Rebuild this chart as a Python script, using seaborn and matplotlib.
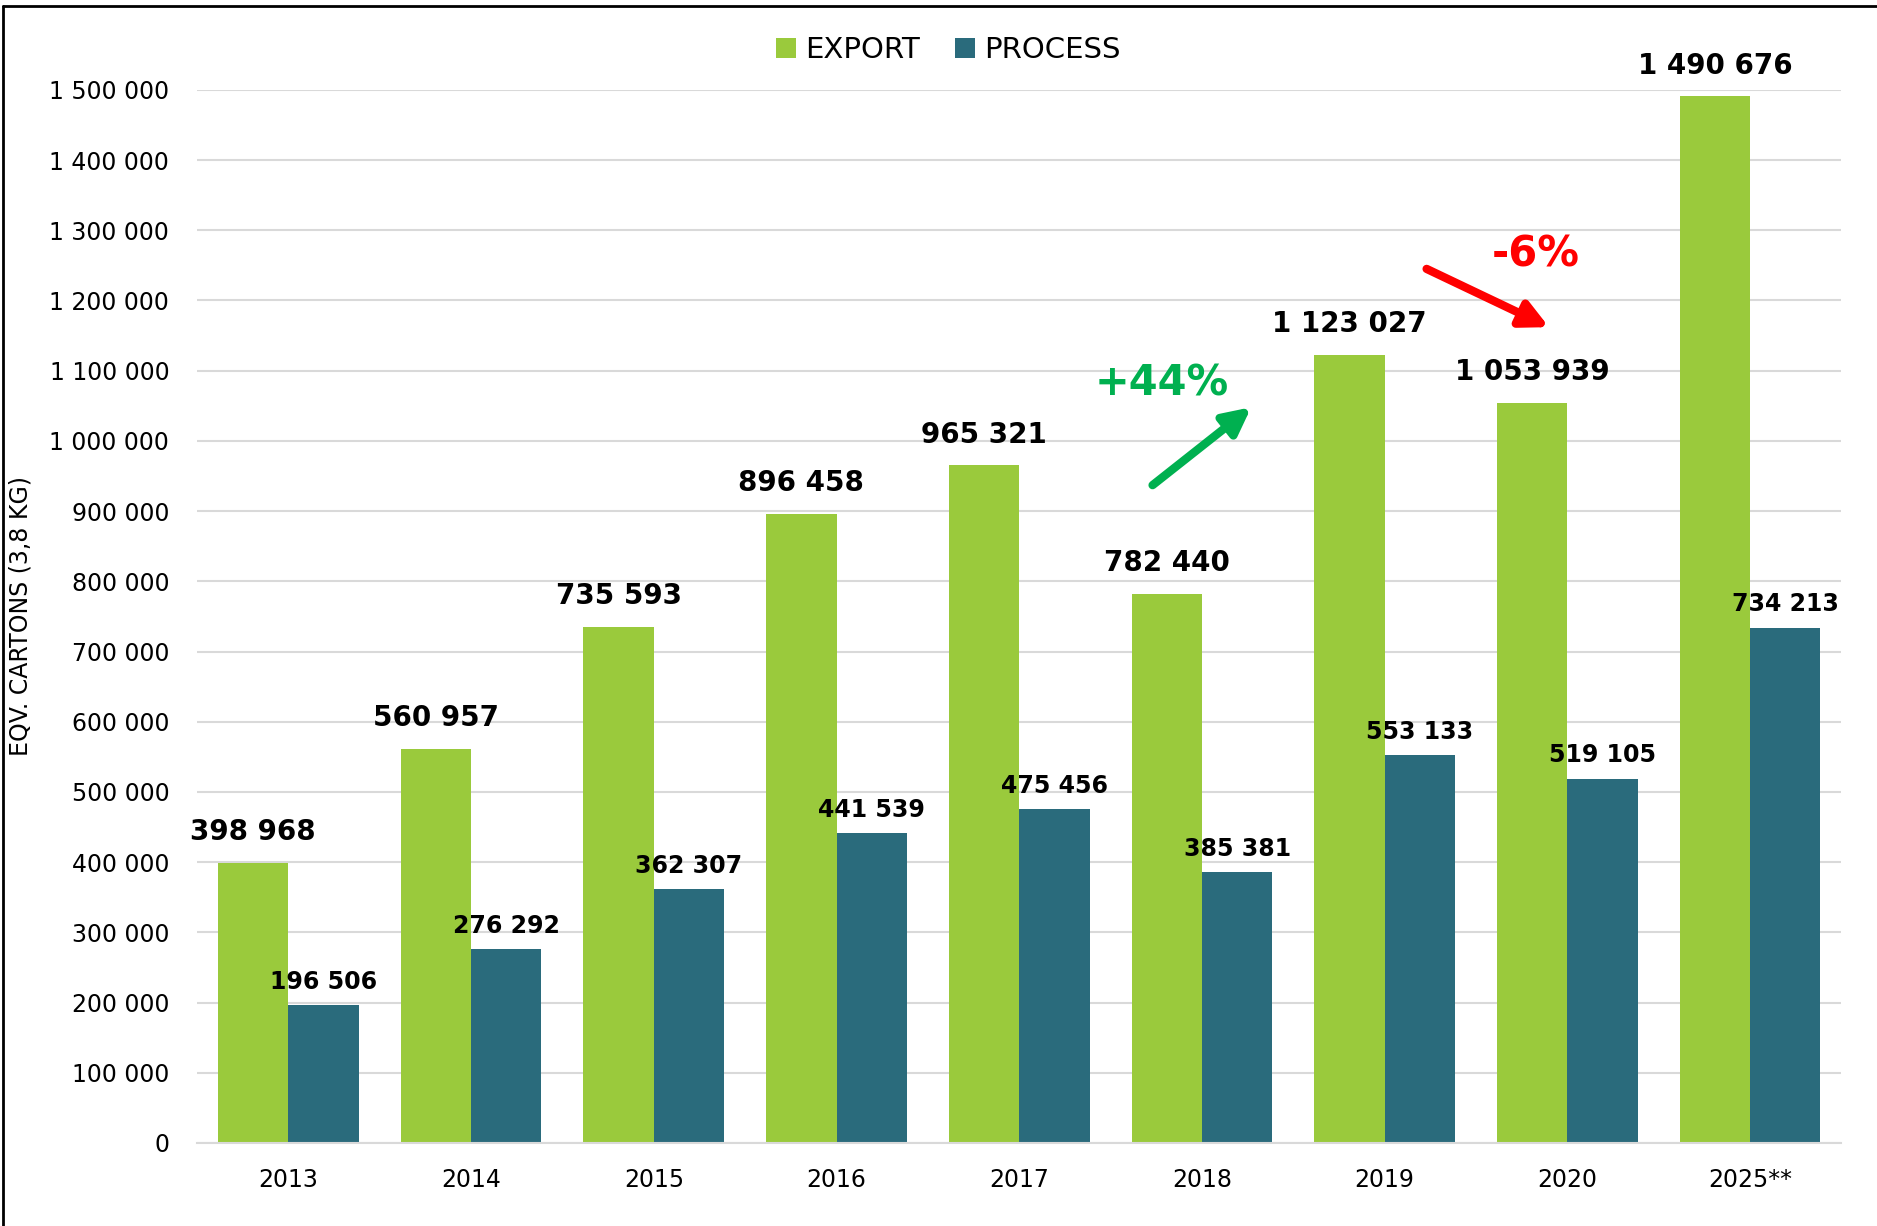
import matplotlib
matplotlib.use("Agg")
import matplotlib.pyplot as plt
import seaborn as sns
import pandas as pd
from matplotlib.lines import Line2D

years = ["2013", "2014", "2015", "2016", "2017", "2018", "2019", "2020", "2025**"]
export = [398968, 560957, 735593, 896458, 965321, 782440, 1123027, 1053939, 1490676]
process = [196506, 276292, 362307, 441539, 475456, 385381, 553133, 519105, 734213]
series_names = ["EXPORT", "PROCESS"]
colors = ["#9ACA3C", "#2A6B7C"]
y_ticks = list(range(0, 1500001, 100000))

sns.set_style("white")
plt.rcParams["font.family"] = ["DejaVu Sans"]
plt.rcParams["text.color"] = "black"
plt.rcParams["xtick.color"] = "black"
plt.rcParams["ytick.color"] = "black"
plt.rcParams["axes.labelcolor"] = "black"

df = pd.DataFrame({
    "year": years * 2,
    "value": export + process,
    "series": [series_names[0]] * len(years) + [series_names[1]] * len(years),
})

fig = plt.figure(figsize=(18.77, 12.26), dpi=100)
ax = fig.add_axes([0.105, 0.0677, 0.876, 0.859])

sns.barplot(data=df, x="year", y="value", hue="series", palette=colors,
            width=0.77, ax=ax, saturation=1, errorbar=None, zorder=2,
            linewidth=0)

def fmt(v):
    return f"{v:,.0f}".replace(",", " ")

ax.set_ylim(0, 1500000)
ax.set_xlim(-0.5, len(years) - 0.5)
ax.set_yticks(y_ticks)
ax.set_yticklabels([fmt(v) for v in y_ticks], fontsize=17, color="black")
ax.tick_params(axis="x", labelsize=17, length=0, pad=18, labelcolor="black")
ax.tick_params(axis="y", length=0, pad=20, labelcolor="black")
ax.yaxis.grid(True, color="#D9D9D9", lw=1.5, zorder=0)
ax.set_axisbelow(True)
for s in ["top", "right", "left"]:
    ax.spines[s].set_visible(False)
ax.spines["bottom"].set_color("#D9D9D9")
ax.spines["bottom"].set_linewidth(1.5)
ax.set_xlabel("")
ax.set_ylabel("EQV. CARTONS (3,8 KG)", fontsize=17, color="black")
ax.yaxis.set_label_coords(-0.1, 0.5)

ax.bar_label(ax.containers[0], labels=[fmt(v) for v in export], padding=12,
             fontsize=20, fontweight="bold", color="black")
ax.bar_label(ax.containers[1], labels=[fmt(v) for v in process], padding=8,
             fontsize=17, fontweight="bold", color="black")

handles, labels = ax.get_legend_handles_labels()
if ax.get_legend() is not None:
    ax.get_legend().remove()
leg = fig.legend(handles, labels, loc="center", bbox_to_anchor=(0.505, 0.959), ncol=2,
                 frameon=False, fontsize=21, handlelength=0.7, handleheight=0.7,
                 handletextpad=0.3, columnspacing=1.2)
for t in leg.get_texts():
    t.set_color("black")

# Annotations
green = "#00B050"
red = "#FF0000"
ax.annotate("", xy=(5.27, 1048000), xytext=(4.73, 937000),
            arrowprops=dict(arrowstyle="-|>", lw=6, color=green, mutation_scale=40,
                            shrinkA=0, shrinkB=0))
ax.text(4.78, 1082000, "+44%", color=green, fontsize=30, fontweight="bold",
        ha="center", va="center")
ax.annotate("", xy=(6.90, 1162000), xytext=(6.23, 1245000),
            arrowprops=dict(arrowstyle="-|>", lw=6, color=red, mutation_scale=40,
                            shrinkA=0, shrinkB=0))
ax.text(6.83, 1266000, "-6%", color=red, fontsize=30, fontweight="bold",
        ha="center", va="center")

# Frame lines (left and top)
fig.add_artist(Line2D([0.0015, 0.0015], [0, 0.995], transform=fig.transFigure,
                      color="black", lw=2))
fig.add_artist(Line2D([0.0015, 1], [0.995, 0.995], transform=fig.transFigure,
                      color="black", lw=2))

fig.savefig("out.png", dpi=100)
